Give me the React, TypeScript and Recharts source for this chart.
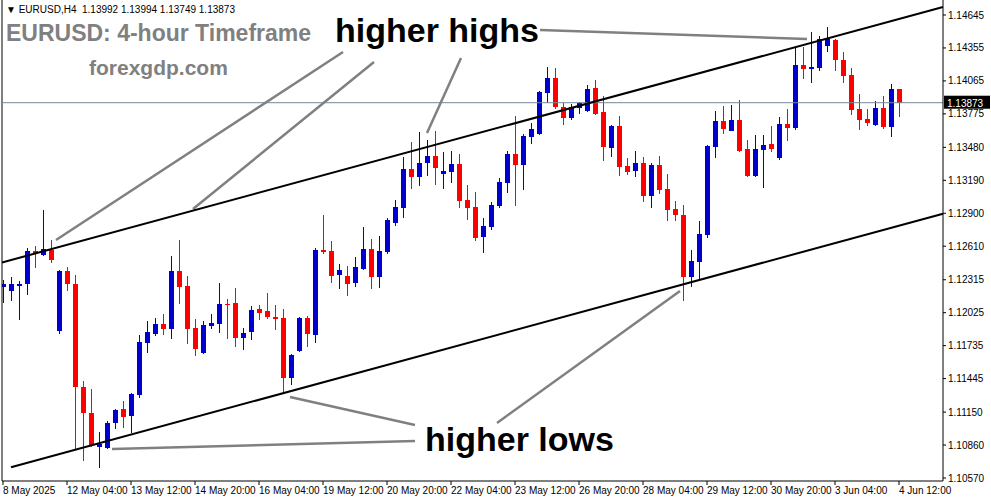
import React from 'react';
import { ComposedChart, Bar, XAxis, YAxis, ReferenceLine } from 'recharts';

// EURUSD H4 candles, 8 May 20:00 .. 4 Jun 12:00
const opens = [
  1.12251, 1.12216, 1.12260, 1.12278, 1.12568, 1.12533, 1.12577, 1.11864, 1.12392, 1.12278,
  1.11371, 1.11143, 1.10846, 1.10837, 1.11055, 1.11178, 1.11116, 1.11301, 1.11759, 1.11838,
  1.11926, 1.11882, 1.12392, 1.12260, 1.11891, 1.11671, 1.11911, 1.11926, 1.12102, 1.12111,
  1.11803, 1.11855, 1.12058, 1.12040, 1.11987, 1.11979, 1.11451, 1.11688, 1.11979, 1.11829,
  1.12577, 1.12568, 1.12357, 1.12348, 1.12287, 1.12410, 1.12586, 1.12339, 1.12559, 1.12815,
  1.12947, 1.13290, 1.13219, 1.13343, 1.13404, 1.13246, 1.13263, 1.13334, 1.13017, 1.12955,
  1.12691, 1.12779, 1.12964, 1.13167, 1.13422, 1.13325, 1.13571, 1.13598, 1.13959, 1.14091,
  1.13835, 1.13739, 1.13827, 1.13800, 1.14003, 1.13791, 1.13475, 1.13668, 1.13316, 1.13272,
  1.13343, 1.13052, 1.13325, 1.13114, 1.12938, 1.12885, 1.12339, 1.12471, 1.12709, 1.13483,
  1.13712, 1.13624, 1.13721, 1.13466, 1.13228, 1.13457, 1.13510, 1.13387, 1.13686, 1.13651,
  1.14205, 1.14170, 1.14179, 1.14372, 1.14425, 1.14249, 1.14117, 1.13818, 1.13730, 1.13677,
  1.13827, 1.13659, 1.13992,
];
const highs = [
  1.12313, 1.12339, 1.12304, 1.12595, 1.12612, 1.12929, 1.12665, 1.12401, 1.12427, 1.12357,
  1.11424, 1.11354, 1.10975, 1.11072, 1.11178, 1.11248, 1.11319, 1.11829, 1.11952, 1.11979,
  1.12014, 1.12524, 1.12665, 1.12348, 1.11970, 1.11952, 1.12014, 1.12287, 1.12146, 1.12243,
  1.11891, 1.12084, 1.12093, 1.12199, 1.12093, 1.12058, 1.11662, 1.11987, 1.11996, 1.12595,
  1.12885, 1.12656, 1.12454, 1.12436, 1.12515, 1.12779, 1.12674, 1.12700, 1.12859, 1.13017,
  1.13395, 1.13527, 1.13615, 1.13545, 1.13624, 1.13439, 1.13448, 1.13422, 1.13149, 1.13087,
  1.12859, 1.12999, 1.13211, 1.13448, 1.13756, 1.13598, 1.13695, 1.13976, 1.14187, 1.14179,
  1.13871, 1.13862, 1.13879, 1.14029, 1.14073, 1.13932, 1.13677, 1.13756, 1.13387, 1.13448,
  1.13395, 1.13343, 1.13404, 1.13246, 1.13008, 1.12973, 1.12577, 1.12832, 1.13501, 1.13800,
  1.13844, 1.13853, 1.13897, 1.13545, 1.13589, 1.13589, 1.13668, 1.13747, 1.13818, 1.14363,
  1.14363, 1.14495, 1.14460, 1.14539, 1.14430, 1.14319, 1.14179, 1.13950, 1.13818, 1.13888,
  1.13932, 1.14038, 1.13994,
];
const lows = [
  1.12111, 1.12128, 1.11961, 1.12181, 1.12419, 1.12524, 1.12463, 1.11838, 1.12216, 1.10826,
  1.10720, 1.10843, 1.10659, 1.10826, 1.11002, 1.11011, 1.10967, 1.11275, 1.11671, 1.11820,
  1.11829, 1.11794, 1.12102, 1.11750, 1.11644, 1.11662, 1.11882, 1.11847, 1.11794, 1.11723,
  1.11697, 1.11785, 1.11961, 1.11970, 1.11873, 1.11319, 1.11389, 1.11679, 1.11723, 1.11759,
  1.12542, 1.12287, 1.12234, 1.12172, 1.12251, 1.12405, 1.12234, 1.12243, 1.12542, 1.12788,
  1.12859, 1.13114, 1.13140, 1.13228, 1.13149, 1.13114, 1.13167, 1.12947, 1.12841, 1.12656,
  1.12551, 1.12753, 1.12947, 1.13079, 1.12964, 1.13105, 1.13510, 1.13589, 1.13871, 1.13818,
  1.13677, 1.13721, 1.13774, 1.13791, 1.13765, 1.13360, 1.13395, 1.13228, 1.13237, 1.13219,
  1.12999, 1.12947, 1.13070, 1.12832, 1.12832, 1.12128, 1.12251, 1.12313, 1.12683, 1.13387,
  1.13598, 1.13620, 1.13440, 1.13220, 1.13219, 1.13123, 1.13439, 1.13369, 1.13536, 1.13633,
  1.14082, 1.14047, 1.14152, 1.14319, 1.14152, 1.14047, 1.13765, 1.13633, 1.13668, 1.13668,
  1.13642, 1.13571, 1.13749,
];
const closes = [
  1.12278, 1.12278, 1.12278, 1.12568, 1.12551, 1.12586, 1.12489, 1.12392, 1.12278, 1.11371,
  1.11143, 1.10861, 1.10870, 1.11055, 1.11169, 1.11107, 1.11310, 1.11767, 1.11855, 1.11926,
  1.11882, 1.12392, 1.12251, 1.11882, 1.11706, 1.11917, 1.11935, 1.12102, 1.12093, 1.11803,
  1.11847, 1.12049, 1.12023, 1.11987, 1.11970, 1.11451, 1.11653, 1.11979, 1.11838, 1.12577,
  1.12559, 1.12348, 1.12401, 1.12278, 1.12427, 1.12586, 1.12339, 1.12568, 1.12841, 1.12955,
  1.13290, 1.13219, 1.13343, 1.13404, 1.13299, 1.13272, 1.13334, 1.13008, 1.12947, 1.12683,
  1.12788, 1.12973, 1.13175, 1.13422, 1.13325, 1.13580, 1.13642, 1.13967, 1.14091, 1.13835,
  1.13739, 1.13835, 1.13871, 1.13994, 1.13774, 1.13483, 1.13668, 1.13307, 1.13263, 1.13343,
  1.13052, 1.13325, 1.13105, 1.12929, 1.12885, 1.12339, 1.12480, 1.12718, 1.13492, 1.13712,
  1.13642, 1.13721, 1.13448, 1.13228, 1.13466, 1.13501, 1.13466, 1.13686, 1.13651, 1.14205,
  1.14170, 1.14187, 1.14434, 1.14434, 1.14249, 1.14108, 1.13809, 1.13721, 1.13695, 1.13827,
  1.13659, 1.13994, 1.13873,
];

const timeTicks = [0, 8, 16, 24, 32, 40, 48, 56, 64, 72, 80, 88, 96, 104, 112];
const timeLabels = [
  '8 May 2025', '12 May 04:00', '13 May 12:00', '14 May 20:00', '16 May 04:00',
  '19 May 12:00', '20 May 20:00', '22 May 04:00', '23 May 12:00', '26 May 20:00',
  '28 May 04:00', '29 May 12:00', '30 May 20:00', '3 Jun 04:00', '4 Jun 12:00',
];
const priceTicks = [
  1.14645, 1.14355, 1.14065, 1.13775, 1.1348, 1.1319, 1.129, 1.1261, 1.12315,
  1.12025, 1.11735, 1.11445, 1.1115, 1.1086, 1.1057,
];

// channel lines, in (bar index, price)
const upperChannel = [{ x: -0.125, y: 1.12467 }, { x: 117.5, y: 1.14715 }];
const lowerChannel = [{ x: 1, y: 1.10665 }, { x: 117.5, y: 1.12896 }];
// grey pointer lines for the "higher highs" / "higher lows" notes
const pointers = [
  [{ x: 42.5, y: 1.14319 }, { x: 6.625, y: 1.12665 }],
  [{ x: 46.375, y: 1.14231 }, { x: 23.75, y: 1.12938 }],
  [{ x: 57.25, y: 1.14267 }, { x: 53, y: 1.13607 }],
  [{ x: 67.125, y: 1.14513 }, { x: 100.5, y: 1.14434 }],
  [{ x: 51.5, y: 1.10896 }, { x: 13.625, y: 1.10826 }],
  [{ x: 51.5, y: 1.11037 }, { x: 35.875, y: 1.11283 }],
  [{ x: 61.75, y: 1.11055 }, { x: 84.625, y: 1.12216 }],
];

const data = opens.map((o, i) => ({ i, o, h: highs[i], l: lows[i], c: closes[i] }));

const BULL = '#0000cd';
const BEAR = '#ff0000';
const FONT = '"Liberation Sans", Arial, sans-serif';

function Candle(props: any) {
  const { x, y, width, height, index } = props;
  const d = props.payload ?? data[index];
  if (!d) return null;
  const cx = Math.round(x + width / 2);
  const k = height / (d.h - d.l);
  const top = y + (d.h - Math.max(d.o, d.c)) * k;
  const bot = y + (d.h - Math.min(d.o, d.c)) * k;
  const col = d.c >= d.o ? BULL : BEAR;
  return (
    <g shapeRendering="crispEdges">
      <rect x={cx} y={y} width={1} height={height} fill={col} />
      <rect x={cx - 2} y={top} width={5} height={Math.max(1, bot - top)} fill={col} />
    </g>
  );
}

function TimeTick(props: any) {
  const { x, y, payload } = props;
  const label = timeLabels[timeTicks.indexOf(payload.value)];
  return (
    <text x={x} y={y + 7} textAnchor="start" fontSize={10} fontFamily={FONT} fill="#000">
      {label}
    </text>
  );
}

function PriceTag(props: any) {
  const vb = props.viewBox;
  if (!vb) return null;
  const xr = vb.x + vb.width;
  return (
    <g>
      <rect x={xr + 1} y={vb.y - 7} width={46} height={13} fill="#000" />
      <text x={xr + 4} y={vb.y + 4} fontSize={10} fontFamily={FONT} fill="#fff">
        {closes[closes.length - 1].toFixed(5)}
      </text>
    </g>
  );
}

export default function App() {
  return (
    <div style={{ position: 'absolute', left: 0, top: 0, width: 991, height: 501, background: '#fff' }}>
      <ComposedChart width={991} height={501} data={data} margin={{ top: 0, right: 0, bottom: 0, left: 2 }}>
        <XAxis
          type="number"
          dataKey="i"
          domain={[-0.125, 117.5]}
          allowDataOverflow
          ticks={timeTicks}
          interval={0}
          height={20}
          tickSize={4}
          tickMargin={2}
          tick={<TimeTick />}
          axisLine={{ stroke: '#000' }}
          tickLine={{ stroke: '#000' }}
        />
        <YAxis
          orientation="right"
          type="number"
          domain={[1.105437, 1.14777]}
          allowDataOverflow
          ticks={priceTicks}
          interval={0}
          width={48}
          tickSize={3}
          tickMargin={2}
          tickFormatter={(v: number) => v.toFixed(5)}
          tick={{ fontSize: 10, fontFamily: FONT, fill: '#000', textAnchor: 'start' }}
          axisLine={{ stroke: '#000' }}
          tickLine={{ stroke: '#000' }}
        />
        <ReferenceLine x={-0.125} stroke="#000" ifOverflow="visible" />
        <ReferenceLine
          y={closes[closes.length - 1]}
          stroke="#778899"
          strokeWidth={1}
          ifOverflow="visible"
          label={<PriceTag />}
        />
        <Bar
          dataKey={(d: any) => [d.l, d.h]}
          barSize={5}
          shape={<Candle />}
          isAnimationActive={false}
        />
        {pointers.map((seg, k) => (
          <ReferenceLine key={k} segment={seg} stroke="#808080" strokeWidth={2.5} ifOverflow="visible" />
        ))}
        <ReferenceLine segment={upperChannel} stroke="#000" strokeWidth={2} ifOverflow="visible" />
        <ReferenceLine segment={lowerChannel} stroke="#000" strokeWidth={2} ifOverflow="visible" />
      </ComposedChart>
      <svg
        width={991}
        height={501}
        style={{ position: 'absolute', left: 0, top: 0, pointerEvents: 'none' }}
      >
        <text x={6} y={13} fontSize={10} fontFamily={FONT} fill="#000" style={{ whiteSpace: 'pre' }}>
          {'▼ EURUSD,H4  1.13992 1.13994 1.13749 1.13873'}
        </text>
        <text x={6} y={41} fontSize={23} fontWeight="bold" fontFamily={FONT} fill="#808080">
          EURUSD: 4-hour Timeframe
        </text>
        <text x={89} y={75} fontSize={21} fontWeight="bold" fontFamily={FONT} fill="#808080">
          forexgdp.com
        </text>
        <text x={335} y={42} fontSize={34} fontWeight="bold" fontFamily={FONT} fill="#000">
          higher highs
        </text>
        <text x={425} y={451} fontSize={34} fontWeight="bold" fontFamily={FONT} fill="#000">
          higher lows
        </text>
      </svg>
    </div>
  );
}
